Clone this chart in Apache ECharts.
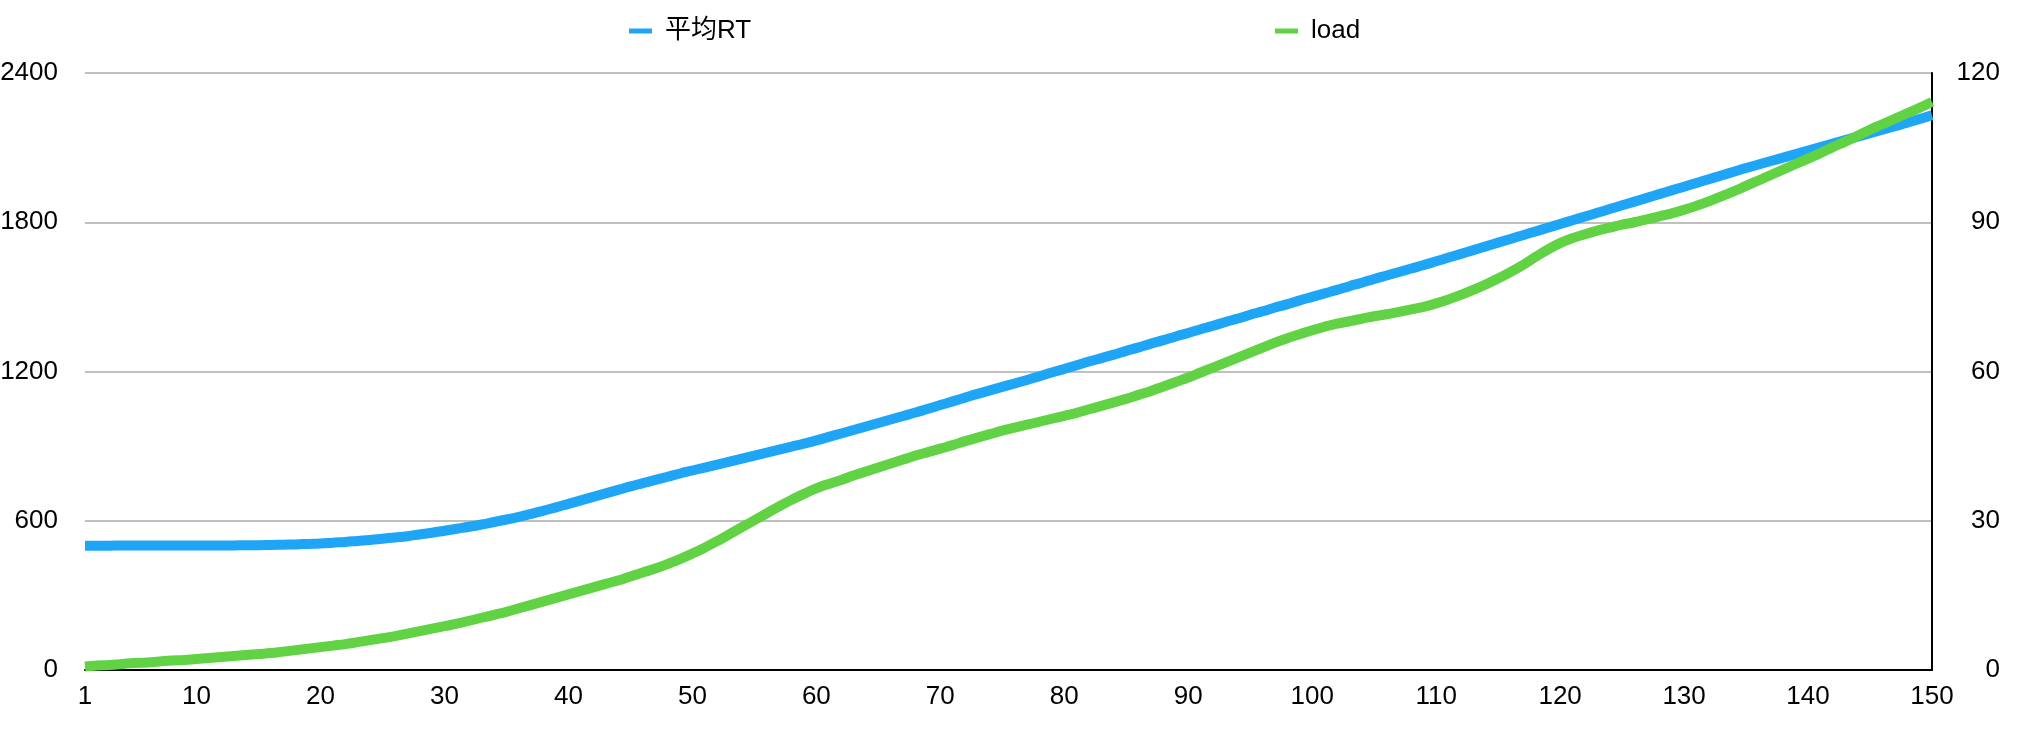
<!DOCTYPE html>
<html>
<head>
<meta charset="utf-8">
<script src="https://cdn.jsdelivr.net/npm/echarts@6/dist/echarts.min.js"></script>
<style>
html,body{margin:0;padding:0;background:#fff;}
#c{width:2018px;height:734px;}
</style>
</head>
<body>
<div id="c"></div>
<script>
// x categories 1..150
var categories = [];
for (var i = 1; i <= 150; i++) categories.push(String(i));

var seriesNames = ['平均RT', 'load'];

// 平均RT (left axis)
var avgRT = [
  500,500,500,501,501,501,501,501,501,501,
  501,501,501,502,502,503,504,505,507,509,
  512,515,519,523,528,533,538,545,552,560,
  568,576,585,595,605,616,628,641,654,668,
  682,696,710,724,738,751,764,777,790,802,
  814,826,838,850,862,874,886,898,910,923,
  937,951,965,979,993,1007,1021,1035,1050,1065,
  1080,1095,1110,1124,1138,1152,1166,1181,1196,1210,
  1225,1240,1254,1268,1283,1297,1312,1326,1341,1355,
  1370,1384,1399,1413,1428,1442,1457,1471,1486,1500,
  1514,1528,1543,1557,1572,1586,1600,1614,1628,1643,
  1658,1673,1688,1703,1718,1733,1748,1763,1778,1793,
  1808,1823,1838,1853,1868,1883,1898,1913,1928,1943,
  1958,1973,1988,2003,2018,2032,2046,2060,2074,2088,
  2102,2116,2130,2144,2158,2172,2186,2200,2215,2230
];

// load (right axis)
var load = [
  0.7,0.9,1.0,1.2,1.4,1.5,1.7,1.9,2.0,2.2,
  2.4,2.6,2.8,3.0,3.2,3.4,3.7,4.0,4.3,4.6,
  4.9,5.2,5.6,6.0,6.4,6.8,7.3,7.8,8.3,8.8,
  9.3,9.9,10.5,11.1,11.7,12.4,13.1,13.8,14.5,15.2,
  15.9,16.6,17.3,18.0,18.8,19.6,20.4,21.3,22.3,23.4,
  24.6,25.9,27.3,28.7,30.1,31.5,32.9,34.2,35.4,36.5,
  37.4,38.2,39.1,39.9,40.7,41.5,42.3,43.1,43.8,44.5,
  45.2,46.0,46.7,47.4,48.1,48.7,49.3,49.9,50.5,51.1,
  51.7,52.4,53.1,53.8,54.5,55.3,56.1,57.0,57.9,58.8,
  59.8,60.8,61.8,62.8,63.8,64.8,65.8,66.7,67.5,68.3,
  69.0,69.6,70.1,70.6,71.1,71.5,72.0,72.5,73.0,73.7,
  74.5,75.4,76.4,77.5,78.7,80.0,81.4,83.0,84.5,85.8,
  86.8,87.6,88.3,88.9,89.5,90.0,90.6,91.2,91.8,92.5,
  93.3,94.2,95.2,96.2,97.3,98.4,99.5,100.6,101.7,102.8,
  103.9,105.1,106.2,107.4,108.6,109.7,110.8,111.9,113.0,114.2
];

var leftTicks = [0, 600, 1200, 1800, 2400];
var rightTicks = [0, 30, 60, 90, 120];

var FONT = "'Liberation Sans', Arial, 'Noto Sans CJK SC', sans-serif";
var chart = echarts.init(document.getElementById('c'), null, {renderer: 'canvas'});

var legendBase = {
  top: 13,
  icon: 'rect',
  itemWidth: 23,
  itemHeight: 5,
  textStyle: {fontSize: 26, color: '#000', fontFamily: FONT, padding: [0, 0, 0, 8]}
};

chart.setOption({
  animation: false,
  backgroundColor: '#fff',
  legend: [
    Object.assign({}, legendBase, {left: 624, data: [seriesNames[0]]}),
    Object.assign({}, legendBase, {left: 1270, data: [seriesNames[1]]})
  ],
  grid: {left: 85, right: 86, top: 73, bottom: 64, containLabel: false, outerBoundsMode: 'none'},
  xAxis: {
    type: 'category',
    data: categories,
    boundaryGap: false,
    axisLine: {show: true, lineStyle: {color: '#000', width: 2}},
    axisTick: {show: false},
    axisLabel: {
      fontSize: 26, color: '#000', fontFamily: FONT, margin: 14,
      interval: function (idx) { return idx === 0 || (idx + 1) % 10 === 0; }
    },
    splitLine: {show: false}
  },
  yAxis: [
    {
      type: 'value', min: leftTicks[0], max: leftTicks[leftTicks.length - 1], interval: 600,
      axisLine: {show: false}, axisTick: {show: false},
      axisLabel: {fontSize: 26, color: '#000', fontFamily: FONT, margin: 27,
        formatter: function (v) { return String(v); }},
      splitLine: {show: true, lineStyle: {color: '#c0c0c0', width: 2}}
    },
    {
      type: 'value', position: 'right', min: rightTicks[0], max: rightTicks[rightTicks.length - 1], interval: 30,
      axisLine: {show: true, lineStyle: {color: '#000', width: 2}}, axisTick: {show: false},
      axisLabel: {fontSize: 26, color: '#000', fontFamily: FONT, margin: 68, align: 'right',
        formatter: function (v) { return String(v); }},
      splitLine: {show: false}
    }
  ],
  series: [
    {
      name: seriesNames[0], type: 'line', yAxisIndex: 0, data: avgRT,
      smooth: true, showSymbol: false, symbol: 'none',
      lineStyle: {color: '#1fa5f5', width: 10},
      itemStyle: {color: '#1fa5f5'}
    },
    {
      name: seriesNames[1], type: 'line', yAxisIndex: 1, data: load,
      smooth: true, showSymbol: false, symbol: 'none',
      lineStyle: {color: '#62d245', width: 10},
      itemStyle: {color: '#62d245'}
    }
  ]
});
</script>
</body>
</html>
